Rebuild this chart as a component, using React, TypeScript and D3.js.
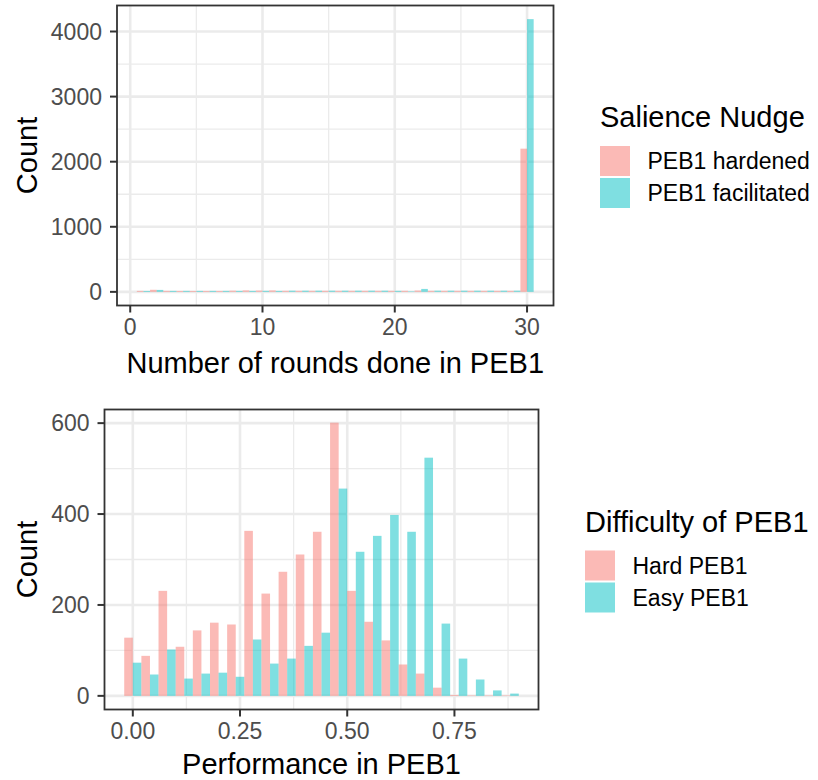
import React from "react";
import * as d3 from "d3";

// ---------- Data ----------
// Top panel: number of rounds done in PEB1 (bin width 1)
const roundBins = [1, 2, 3, 4, 5, 6, 7, 8, 9, 10, 11, 12, 13, 14, 15, 16, 17, 18, 19, 20, 21, 22, 23, 24, 25, 26, 27, 28, 29, 30];
const roundsHardened = [15, 32, 15, 14, 14, 14, 14, 18, 22, 20, 22, 16, 16, 16, 16, 16, 16, 16, 16, 16, 16, 20, 16, 16, 16, 16, 16, 16, 16, 2200];
const roundsFacilitated = [14, 30, 15, 15, 15, 15, 15, 15, 15, 16, 15, 18, 18, 18, 18, 18, 18, 18, 18, 16, 8, 45, 18, 18, 18, 18, 18, 18, 18, 4190];
const roundsXTicks = [0, 10, 20, 30];
const roundsXMinor = [5, 15, 25];
const roundsYTicks = [0, 1000, 2000, 3000, 4000];
const roundsYMinor = [500, 1500, 2500, 3500];

// Bottom panel: performance in PEB1 (bin width 0.04)
const perfBins = [0, 0.04, 0.08, 0.12, 0.16, 0.2, 0.24, 0.28, 0.32, 0.36, 0.4, 0.44, 0.48, 0.52, 0.56, 0.6, 0.64, 0.68, 0.72, 0.76, 0.8, 0.84, 0.88];
const perfHard = [128, 88, 231, 108, 144, 161, 157, 363, 225, 273, 311, 361, 601, 231, 163, 122, 69, 49, 18, 2, 1, 1, 1];
const perfEasy = [73, 47, 102, 38, 49, 51, 42, 124, 71, 82, 110, 139, 456, 317, 352, 398, 361, 524, 159, 82, 36, 12, 5];
const perfXTicks = [0, 0.25, 0.5, 0.75];
const perfXMinor = [0.125, 0.375, 0.625, 0.875];
const perfYTicks = [0, 200, 400, 600];
const perfYMinor = [100, 300, 500];

const PINK = "#F8766D";
const CYAN = "#00BFC4";
const FONT = "'Liberation Sans', Arial, Helvetica, sans-serif";

type PanelProps = {
  left: number; right: number; top: number; bottom: number;
  xDomain: [number, number]; yDomain: [number, number];
  bins: number[]; width: number; a: number[]; b: number[];
  xTicks: number[]; xMinor: number[]; yTicks: number[]; yMinor: number[];
  xFmt: (v: number) => string; xTitle: string; titleOffset: number;
};

function Panel(p: PanelProps) {
  const xs = d3.scaleLinear().domain(p.xDomain).range([p.left, p.right]);
  const ys = d3.scaleLinear().domain(p.yDomain).range([p.bottom, p.top]);
  const midY = (p.top + p.bottom) / 2;
  const midX = (p.left + p.right) / 2;
  return (
    <g>
      <rect x={p.left} y={p.top} width={p.right - p.left} height={p.bottom - p.top} fill="#fff" />
      {p.xMinor.map((v) => (
        <line key={"xm" + v} x1={xs(v)} x2={xs(v)} y1={p.top} y2={p.bottom} stroke="#EBEBEB" strokeWidth={1.3} />
      ))}
      {p.yMinor.map((v) => (
        <line key={"ym" + v} x1={p.left} x2={p.right} y1={ys(v)} y2={ys(v)} stroke="#EBEBEB" strokeWidth={1.3} />
      ))}
      {p.xTicks.map((v) => (
        <line key={"xg" + v} x1={xs(v)} x2={xs(v)} y1={p.top} y2={p.bottom} stroke="#EBEBEB" strokeWidth={2.6} />
      ))}
      {p.yTicks.map((v) => (
        <line key={"yg" + v} x1={p.left} x2={p.right} y1={ys(v)} y2={ys(v)} stroke="#EBEBEB" strokeWidth={2.6} />
      ))}
      {p.bins.map((c, i) => (
        <g key={"bar" + i}>
          <rect x={xs(c - p.width / 2)} width={xs(c) - xs(c - p.width / 2)} y={ys(p.a[i])} height={ys(0) - ys(p.a[i])} fill={PINK} fillOpacity={0.5} />
          <rect x={xs(c)} width={xs(c + p.width / 2) - xs(c)} y={ys(p.b[i])} height={ys(0) - ys(p.b[i])} fill={CYAN} fillOpacity={0.5} />
        </g>
      ))}
      <rect x={p.left} y={p.top} width={p.right - p.left} height={p.bottom - p.top} fill="none" stroke="#333333" strokeWidth={1.8} />
      {p.xTicks.map((v) => (
        <g key={"xt" + v}>
          <line x1={xs(v)} x2={xs(v)} y1={p.bottom} y2={p.bottom + 7} stroke="#333333" strokeWidth={2} />
          <text x={xs(v)} y={p.bottom + 29} textAnchor="middle" fontSize={23} fill="#4D4D4D" fontFamily={FONT}>{p.xFmt(v)}</text>
        </g>
      ))}
      {p.yTicks.map((v) => (
        <g key={"yt" + v}>
          <line x1={p.left - 7} x2={p.left} y1={ys(v)} y2={ys(v)} stroke="#333333" strokeWidth={2} />
          <text x={p.left - 15} y={ys(v) + 8.3} textAnchor="end" fontSize={23} fill="#4D4D4D" fontFamily={FONT}>{String(v)}</text>
        </g>
      ))}
      <text x={midX} y={p.bottom + p.titleOffset} textAnchor="middle" fontSize={29} fill="#000" fontFamily={FONT}>{p.xTitle}</text>
      <text transform={`translate(36.5,${midY}) rotate(-90)`} textAnchor="middle" fontSize={29} fill="#000" fontFamily={FONT}>Count</text>
    </g>
  );
}

function Legend({ x, y, title, labels }: { x: number; y: number; title: string; labels: string[] }) {
  const colors = [PINK, CYAN];
  return (
    <g>
      <text x={x} y={y} fontSize={29} fill="#000" fontFamily={FONT}>{title}</text>
      {labels.map((l, i) => (
        <g key={l}>
          <rect x={x} y={y + 19 + i * 32} width={30} height={30} fill={colors[i]} fillOpacity={0.5} />
          <text x={x + 47.5} y={y + 42 + i * 32} fontSize={23} fill="#000" fontFamily={FONT}>{l}</text>
        </g>
      ))}
    </g>
  );
}

export default function App() {
  return (
    <svg width={818} height={780} style={{ position: "absolute", left: 0, top: 0, background: "#fff" }}>
      <rect x={0} y={0} width={818} height={780} fill="#fff" />
      <Panel
        left={117} right={553.5} top={5.5} bottom={305.5}
        xDomain={[-1, 32]} yDomain={[-209.5, 4399.5]}
        bins={roundBins} width={1} a={roundsHardened} b={roundsFacilitated}
        xTicks={roundsXTicks} xMinor={roundsXMinor} yTicks={roundsYTicks} yMinor={roundsYMinor}
        xFmt={(v) => String(v)} xTitle="Number of rounds done in PEB1" titleOffset={67}
      />
      <Panel
        left={104.5} right={538.5} top={409.5} bottom={709.5}
        xDomain={[-0.066, 0.946]} yDomain={[-30, 630]}
        bins={perfBins} width={0.04} a={perfHard} b={perfEasy}
        xTicks={perfXTicks} xMinor={perfXMinor} yTicks={perfYTicks} yMinor={perfYMinor}
        xFmt={(v) => v.toFixed(2)} xTitle="Performance in PEB1" titleOffset={64}
      />
      <Legend x={600} y={127} title="Salience Nudge" labels={["PEB1 hardened", "PEB1 facilitated"]} />
      <Legend x={585} y={531.5} title="Difficulty of PEB1" labels={["Hard PEB1", "Easy PEB1"]} />
    </svg>
  );
}
